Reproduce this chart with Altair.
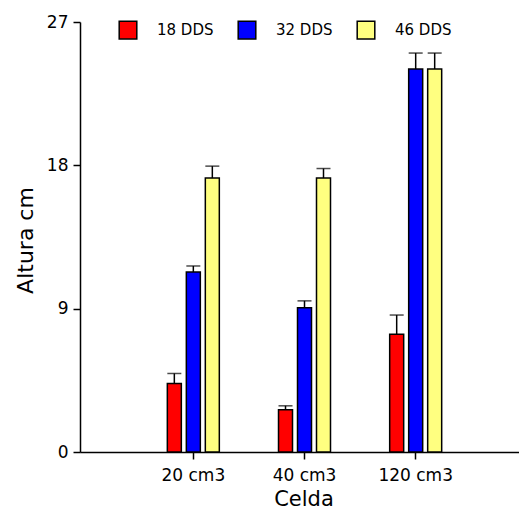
import altair as alt
import pandas as pd

cells = ["20 cm3", "40 cm3", "120 cm3"]
dds = ["18 DDS", "32 DDS", "46 DDS"]
means_18 = [4.3, 2.65, 7.4]
means_32 = [11.3, 9.05, 24.05]
means_46 = [17.2, 17.2, 24.05]
err_18 = [0.63, 0.25, 1.2]
err_32 = [0.38, 0.44, 1.0]
err_46 = [0.75, 0.6, 1.0]
colors = ["#FF0000", "#0000FF", "#FFFF80"]
y_ticks = [0, 9, 18, 27]

rows = []
for d, m, e in zip(dds, [means_18, means_32, means_46], [err_18, err_32, err_46]):
    for c, mv, ev in zip(cells, m, e):
        rows.append({"Celda": c, "DDS": d, "valor": mv, "err": ev})
df = pd.DataFrame(rows)

FONT = "DejaVu Sans"

x_enc = alt.X(
    "Celda:N",
    sort=cells,
    scale=alt.Scale(paddingInner=0.4874, paddingOuter=0.754, align=0.506),
    axis=alt.Axis(
        title="Celda",
        labelAngle=0,
        labelFontSize=17,
        labelBaseline="alphabetic",
        labelPadding=21,
        tickSize=7,
        titleFontSize=21,
        titleFontWeight="normal",
        titleBaseline="alphabetic",
        titleY=53,
    ),
)
xoff = alt.XOffset(
    "DDS:N",
    sort=dds,
    scale=alt.Scale(paddingInner=0.263, paddingOuter=0.1315),
)

base = alt.Chart(df)

bars = base.mark_bar(stroke="black", strokeWidth=1.5).encode(
    x=x_enc,
    xOffset=xoff,
    y=alt.Y(
        "valor:Q",
        scale=alt.Scale(domain=[0, 27], nice=False),
        axis=alt.Axis(
            title="Altura cm",
            values=y_ticks,
            labelFontSize=17,
            labelPadding=5,
            tickSize=7,
            titleFontSize=22,
            titleFontWeight="normal",
            titleBaseline="middle",
            titleX=-55,
            titleY=218,
        ),
    ),
    color=alt.Color(
        "DDS:N",
        sort=dds,
        scale=alt.Scale(domain=dds, range=colors),
        legend=alt.Legend(
            title=None,
            orient="none",
            legendX=38,
            legendY=-2,
            direction="horizontal",
            symbolType="square",
            symbolSize=310,
            symbolStrokeColor="black",
            symbolStrokeWidth=1.5,
            symbolOpacity=1,
            labelFontSize=15,
            labelOffset=19,
            columnPadding=21,
            labelFont=FONT,
            labelColor="black",
            padding=0,
        ),
    ),
)

rules = base.mark_rule(color="black", strokeWidth=1.5).transform_calculate(
    top="datum.valor + datum.err"
).encode(
    x=x_enc,
    xOffset=xoff,
    y="valor:Q",
    y2="top:Q",
)

caps = base.mark_tick(color="black", thickness=1.5, size=14).transform_calculate(
    top="datum.valor + datum.err"
).encode(
    x=x_enc,
    xOffset=xoff,
    y="top:Q",
)

chart = (
    alt.layer(bars, rules, caps)
    .properties(
        width=447,
        height=430,
        autosize=alt.AutoSizeParams(type="none"),
        padding={"left": 72, "top": 14, "right": -8, "bottom": 58},
    )
    .configure_view(stroke=None)
    .configure_axis(
        labelFont=FONT,
        titleFont=FONT,
        labelColor="black",
        titleColor="black",
        domainColor="black",
        tickColor="black",
        domainWidth=1.5,
        tickWidth=1.5,
        grid=False,
    )
)

chart.save("out.html", embed_options={"renderer": "svg", "actions": False})
